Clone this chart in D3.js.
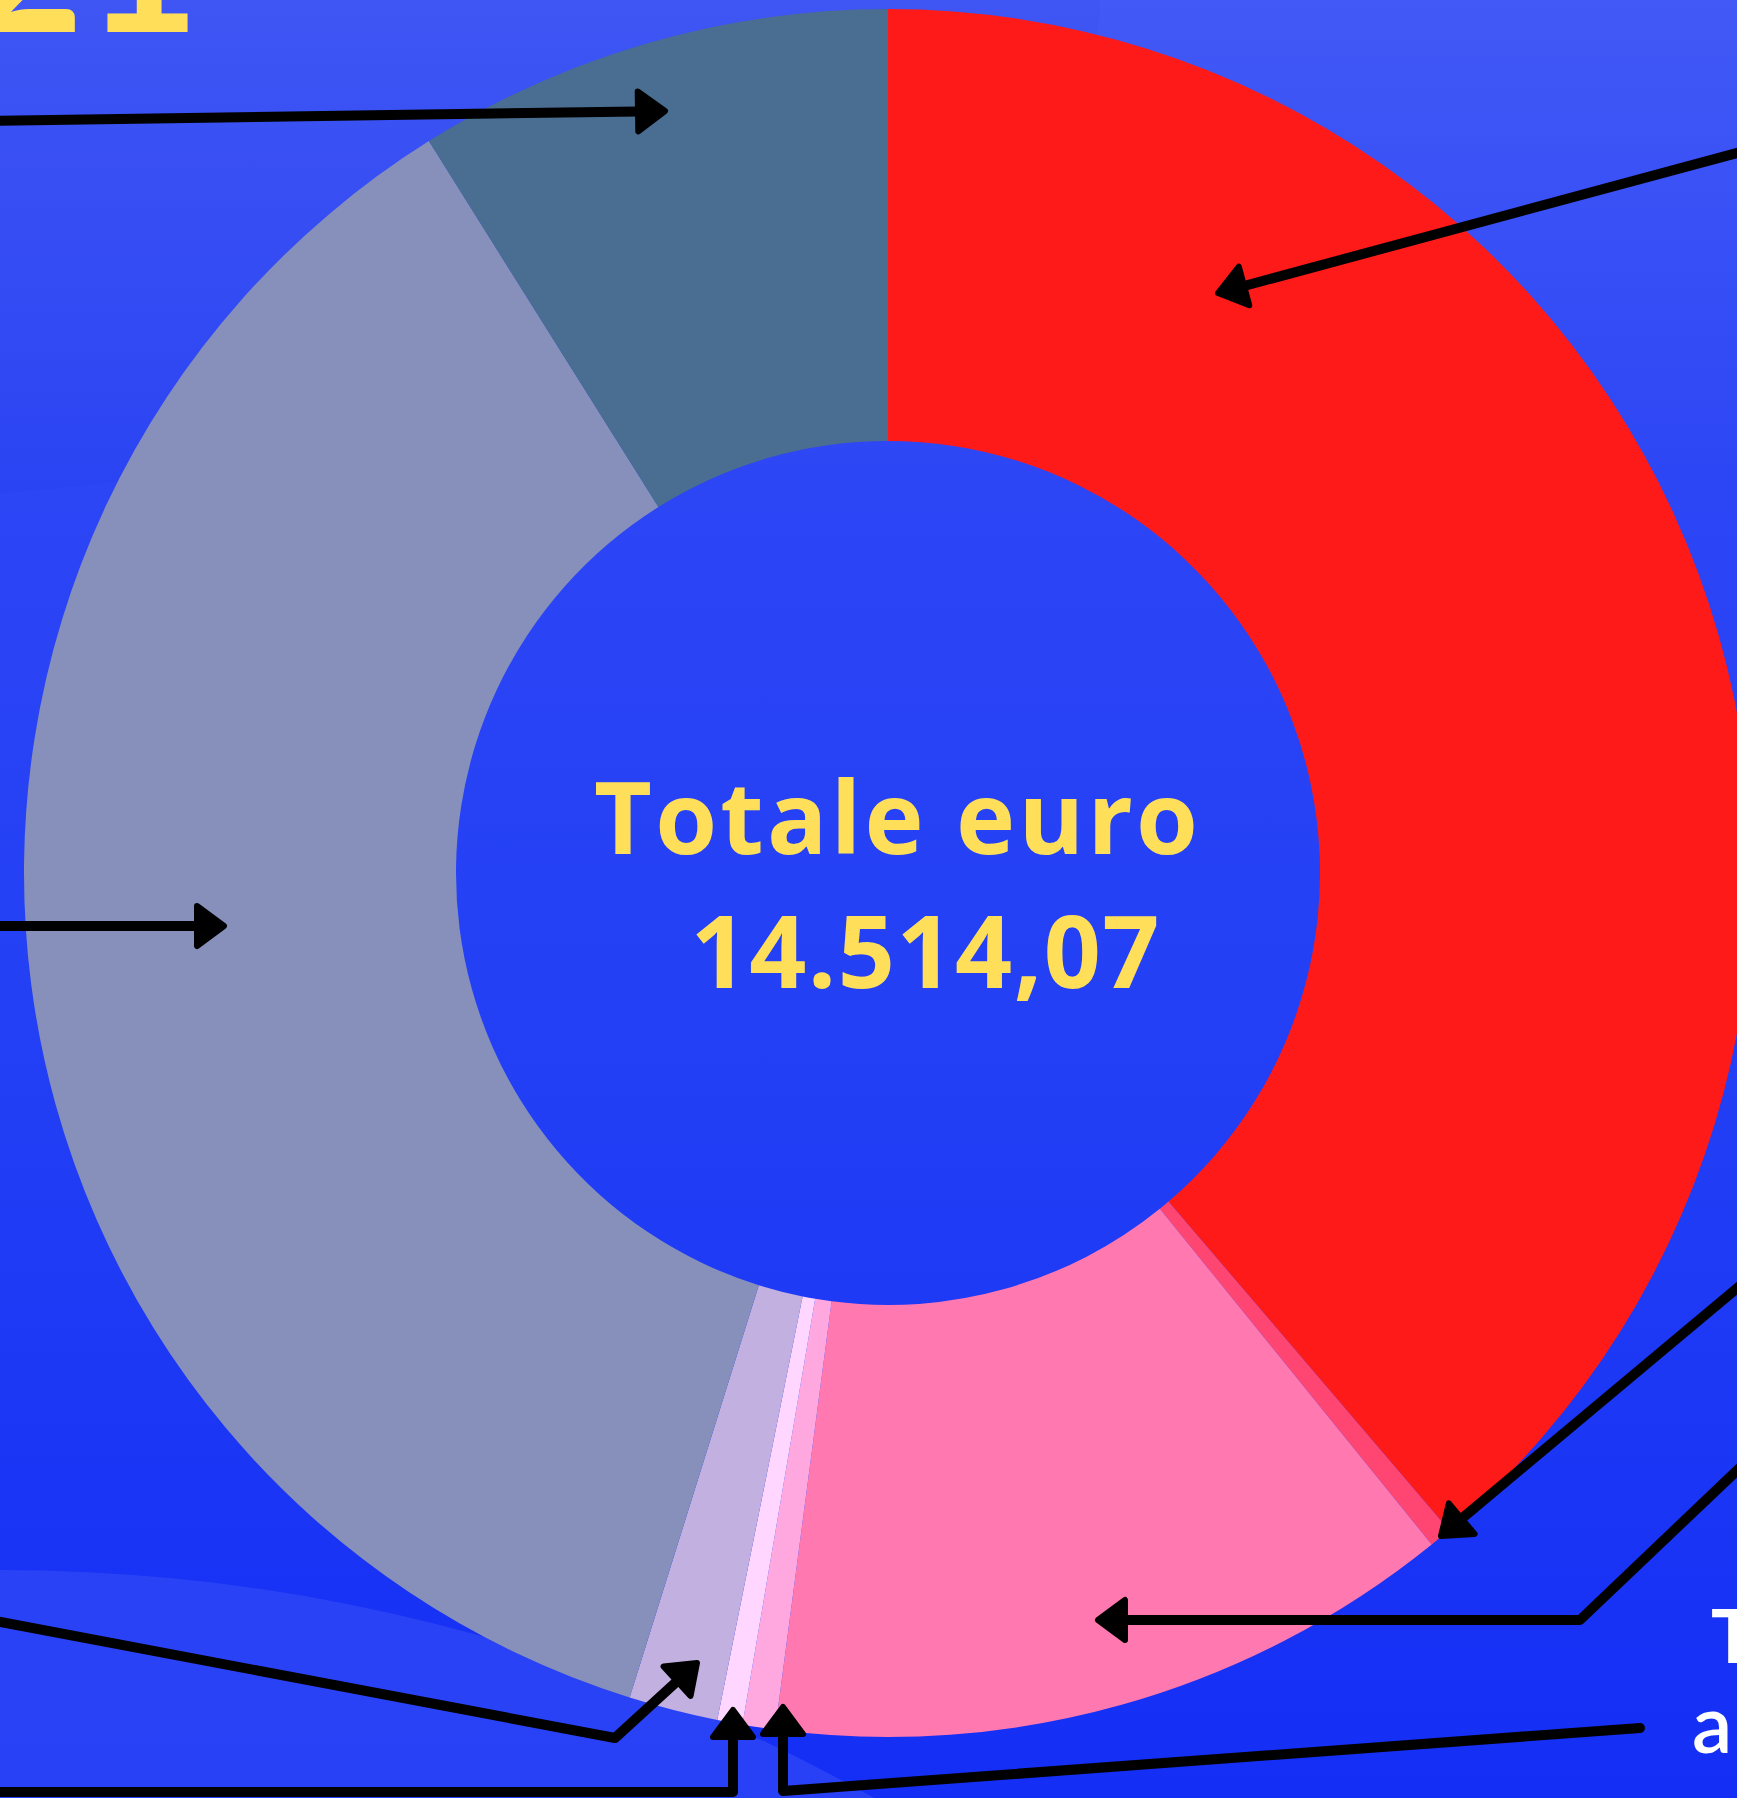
<!DOCTYPE html>
<html lang="it">
<head>
<meta charset="UTF-8">
<title>Totale euro 14.514,07</title>
<script src="https://d3js.org/d3.v7.min.js"></script>
<style>
  body { margin: 0; background: #2a43f5; overflow: hidden; }
  svg { display: block; }
  .center-label { font-family: "Open Sans", Lato, sans-serif; font-weight: 700; fill: #ffdf5a; }
</style>
</head>
<body>
<div id="chart"></div>
<script>
// Dati della ciambella (valori in euro)
const categorie = ["voce1", "voce2", "voce3", "voce4", "voce5", "voce6", "voce7", "voce8"];
const valori    = [5624.2, 60.5, 1874.7, 88.7, 68.5, 241.9, 5261.3, 1294.2];
const colori    = ["#ff1a1a", "#ff4571", "#ff78b0", "#ffa8e0", "#ffd6ff", "#c2b0e0", "#8690ba", "#4a6d92"];
const etichettaTotale = ["Totale euro", "14.514,07"];

// Frecce di richiamo (le etichette sono fuori dal ritaglio)
const frecce = [
  [[-10, 121], [665, 111]],
  [[1748, 150], [1218, 293]],
  [[-10, 926], [224, 926]],
  [[1748, 1279], [1441, 1536]],
  [[1748, 1460], [1580, 1620], [1098, 1620]],
  [[-10, 1620], [615, 1738], [697, 1663]],
  [[-10, 1792], [733, 1792], [733, 1710]],
  [[1640, 1728], [783, 1791], [783, 1707]]
];

const W = 1737, H = 1798;
const cx = 888, cy = 873;
const rOuter = 864, rInner = 432;

const svg = d3.select("#chart").append("svg")
    .attr("width", W)
    .attr("height", H);

// Sfondo con gradiente blu
const defs = svg.append("defs");
const grad = defs.append("linearGradient")
    .attr("id", "bg").attr("x1", 0).attr("y1", 0).attr("x2", 0).attr("y2", 1);
grad.append("stop").attr("offset", "0%").attr("stop-color", "#4259f6");
grad.append("stop").attr("offset", "28%").attr("stop-color", "#2c45f5");
grad.append("stop").attr("offset", "60%").attr("stop-color", "#223ff5");
grad.append("stop").attr("offset", "100%").attr("stop-color", "#142ef5");

svg.append("rect").attr("width", W).attr("height", H).attr("fill", "url(#bg)");

// forme decorative leggere sullo sfondo
svg.append("ellipse")
    .attr("cx", -300).attr("cy", 0).attr("rx", 1400).attr("ry", 505)
    .attr("fill", "#1a30e0").attr("opacity", 0.05);
svg.append("circle")
    .attr("cx", 0).attr("cy", 3360).attr("r", 1790)
    .attr("fill", "#3048f5").attr("opacity", 0.75);

// Titolo tagliato in alto a sinistra
svg.append("text")
    .attr("x", 200).attr("y", 32)
    .attr("text-anchor", "end")
    .attr("font-family", "Lato, sans-serif")
    .attr("font-weight", 700)
    .attr("font-size", 200)
    .attr("fill", "#ffdf5a")
    .text("2021");

// Ciambella
const pie = d3.pie().sort(null).value(d => d);
const arc = d3.arc().innerRadius(rInner).outerRadius(rOuter);

const g = svg.append("g").attr("transform", `translate(${cx},${cy})`);
g.selectAll("path.fetta")
    .data(pie(valori))
    .enter().append("path")
    .attr("class", "fetta")
    .attr("d", arc)
    .attr("fill", (d, i) => colori[i]);

// Testo centrale
g.append("text")
    .attr("class", "center-label")
    .attr("x", 8).attr("y", -19)
    .attr("text-anchor", "middle")
    .attr("font-size", 100)
    .attr("textLength", 604)
    .attr("lengthAdjust", "spacing")
    .text(etichettaTotale[0]);

g.append("text")
    .attr("class", "center-label")
    .attr("x", 37).attr("y", 115)
    .attr("text-anchor", "middle")
    .attr("font-size", 100)
    .attr("textLength", 469)
    .attr("lengthAdjust", "spacing")
    .text(etichettaTotale[1]);

// Frecce
const headLen = 27, headW = 20;
const linea = d3.line();
frecce.forEach(pts => {
    const n = pts.length;
    const tip = pts[n - 1], prev = pts[n - 2];
    const dx = tip[0] - prev[0], dy = tip[1] - prev[1];
    const len = Math.hypot(dx, dy);
    const ux = dx / len, uy = dy / len;
    const base = [tip[0] - ux * headLen, tip[1] - uy * headLen];
    const shaft = pts.slice(0, n - 1).concat([base]);

    svg.append("path")
        .attr("d", linea(shaft))
        .attr("fill", "none")
        .attr("stroke", "#000")
        .attr("stroke-width", 10)
        .attr("stroke-linecap", "round")
        .attr("stroke-linejoin", "round");

    const px = -uy, py = ux;
    svg.append("path")
        .attr("d", linea([
            [tip[0], tip[1]],
            [base[0] + px * headW, base[1] + py * headW],
            [base[0] - px * headW, base[1] - py * headW]
        ]) + "Z")
        .attr("fill", "#000")
        .attr("stroke", "#000")
        .attr("stroke-width", 6)
        .attr("stroke-linejoin", "round");
});

// Etichette bianche tagliate a destra
svg.append("text")
    .attr("x", 1711).attr("y", 1663)
    .attr("font-family", "Lato, sans-serif")
    .attr("font-weight", 700)
    .attr("font-size", 74)
    .attr("fill", "#fff")
    .text("T");
svg.append("text")
    .attr("x", 1692).attr("y", 1753)
    .attr("font-family", "Lato, sans-serif")
    .attr("font-weight", 600)
    .attr("font-size", 80)
    .attr("fill", "#fff")
    .text("a");
</script>
</body>
</html>
